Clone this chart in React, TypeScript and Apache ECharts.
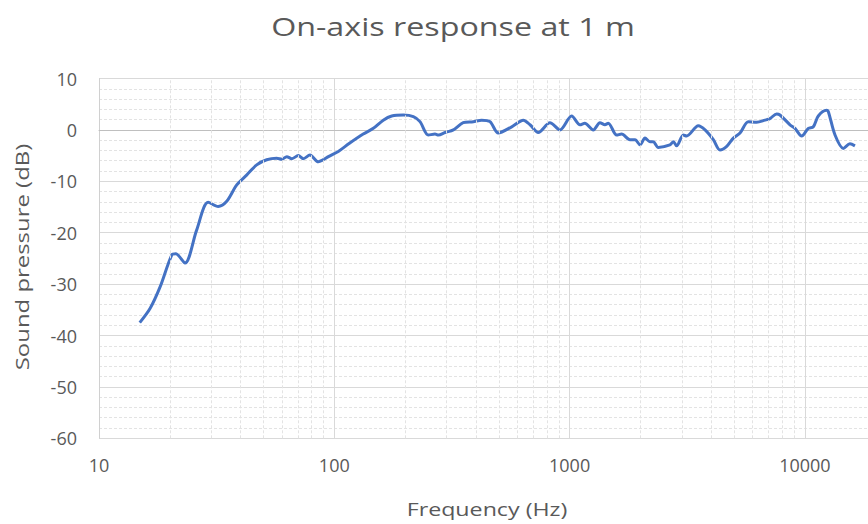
import React, { useEffect, useRef } from "react";
import * as echarts from "echarts";

const titleText = "On-axis response at 1 m";
const xAxisTitle = "Frequency (Hz)";
const yAxisTitle = "Sound pressure (dB)";

const freqHz = [14.9, 16.5, 18.2, 20.4, 21.2, 23.2, 26, 29.1, 32.1, 34.9, 38.5, 42.4, 46.8, 51.6, 56.9, 59.9, 62.8, 66, 70.3, 73.8, 78.8, 85.5, 89.8, 94.4, 104, 116, 132.7, 146.5, 161.5, 175.4, 196.6, 216.7, 231.3, 250.9, 267.9, 277, 295.5, 320.6, 353, 389.7, 422.7, 459, 497.6, 567.5, 636, 678.8, 736, 825, 910, 1020, 1107, 1160, 1261, 1346, 1413, 1460, 1585, 1663, 1806, 1897, 1992, 2092, 2196, 2268, 2382, 2670, 2761, 2851, 3043, 3141, 3524, 3763, 4082, 4356, 4653, 4965, 5300, 5750, 6237, 6762, 7100, 7586, 7834, 8643, 9078, 9692, 10340, 10860, 11400, 12360, 12570, 13430, 14560, 15540, 16320];
const splDb = [-37.5, -34.7, -30.5, -24.3, -24.1, -25.9, -19.5, -14.1, -14.9, -13.9, -10.7, -8.8, -6.8, -5.8, -5.5, -5.7, -5.2, -5.6, -5.0, -5.6, -4.9, -6.2, -5.8, -5.2, -4.2, -2.6, -0.8, 0.3, 1.9, 2.7, 2.9, 2.6, 1.6, -1.0, -0.8, -1.0, -0.5, 0, 1.4, 1.6, 1.9, 1.6, -0.6, 0.6, 1.9, 1.0, -0.5, 1.4, 0, 2.7, 1.0, 1.3, 0, 1.4, 1.0, 1.3, -1.0, -0.8, -1.9, -1.9, -2.9, -1.6, -2.3, -2.3, -3.4, -2.9, -2.3, -3.1, -1.0, -1.2, 0.8, 0, -1.9, -3.9, -3.2, -1.6, -0.6, 1.6, 1.5, 1.9, 2.2, 3.1, 2.9, 1.0, 0.3, -1.2, 0.3, 0.6, 2.7, 3.8, 3.6, -1.0, -3.6, -2.7, -3.1];

const decades = [10, 100, 1000, 10000];
const minorMultipliers = [2, 3, 4, 5, 6, 7, 8, 9];
const yTicks = { min: -60, max: 10, step: 10 };

const FONT = "'Open Sans', 'Noto Sans', sans-serif";
const TEXT_COLOR = "#595959";
const CHART_W = 1062;

export default function App() {
  const ref = useRef<HTMLDivElement>(null);
  useEffect(() => {
    if (!ref.current) return;
    const chart = echarts.init(ref.current, undefined, { renderer: "svg" });
    const minorLines: any[] = [];
    decades.forEach((d) => minorMultipliers.forEach((m) => minorLines.push({ xAxis: d * m })));
    const data = freqHz.map((f, i) => [f, splDb[i]]);
    chart.setOption({
      animation: false,
      backgroundColor: "#ffffff",
      grid: { left: 99, right: CHART_W - 99 - 941.2, top: 78.5, bottom: 85.7, containLabel: false, outerBoundsMode: "none" },
      xAxis: {
        type: "log",
        logBase: 10,
        min: 10,
        max: 100000,
        axisLine: { show: true, lineStyle: { color: "#bfbfbf", width: 1 } },
        axisTick: { show: false },
        axisLabel: {
          color: TEXT_COLOR,
          fontFamily: FONT,
          fontSize: 18,
          margin: 18,
          formatter: (v: number) => (v > 10000 ? "" : String(Math.round(v))),
        },
        splitLine: { show: true, lineStyle: { color: "#d9d9d9", width: 1 } },
      },
      yAxis: {
        type: "value",
        min: yTicks.min,
        max: yTicks.max,
        interval: yTicks.step,
        axisLine: { show: true, lineStyle: { color: "#d0d0d0", width: 1 } },
        axisTick: { show: false },
        axisLabel: { color: TEXT_COLOR, fontFamily: FONT, fontSize: 18, margin: 22 },
        splitLine: { show: true, lineStyle: { color: "#d9d9d9", width: 1 } },
        minorTick: { show: false, splitNumber: 5 },
        minorSplitLine: { show: true, lineStyle: { color: "#e3e3e3", width: 1, type: [3, 2] } },
      },
      graphic: [
        {
          type: "text",
          x: 453,
          y: 26,
          scaleX: 1.29,
          style: { text: titleText, align: "center", verticalAlign: "middle", fill: TEXT_COLOR, font: `25px ${FONT}` },
        },
        {
          type: "text",
          x: 487,
          y: 509,
          scaleX: 1.29,
          style: { text: xAxisTitle, align: "center", verticalAlign: "middle", fill: TEXT_COLOR, font: `18px ${FONT}` },
        },
        {
          type: "text",
          x: 22,
          y: 257,
          rotation: Math.PI / 2,
          scaleX: 1.33,
          style: { text: yAxisTitle, align: "center", verticalAlign: "middle", fill: TEXT_COLOR, font: `18px ${FONT}` },
        },
      ],
      series: [
        {
          type: "line",
          data: [],
          z: 1,
          silent: true,
          markLine: {
            silent: true,
            symbol: "none",
            label: { show: false },
            lineStyle: { color: "#e3e3e3", width: 1, type: [3, 2] },
            data: minorLines,
          },
        },
        {
          type: "line",
          data,
          z: 3,
          smooth: 0.3,
          showSymbol: false,
          lineStyle: { color: "#4472c4", width: 3 },
        },
      ],
    });
    return () => chart.dispose();
  }, []);
  return (
    <div style={{ position: "fixed", left: 0, top: 0, width: 868, height: 524, overflow: "hidden", background: "#fff" }}>
      <div ref={ref} style={{ width: CHART_W, height: 524 }} />
    </div>
  );
}
